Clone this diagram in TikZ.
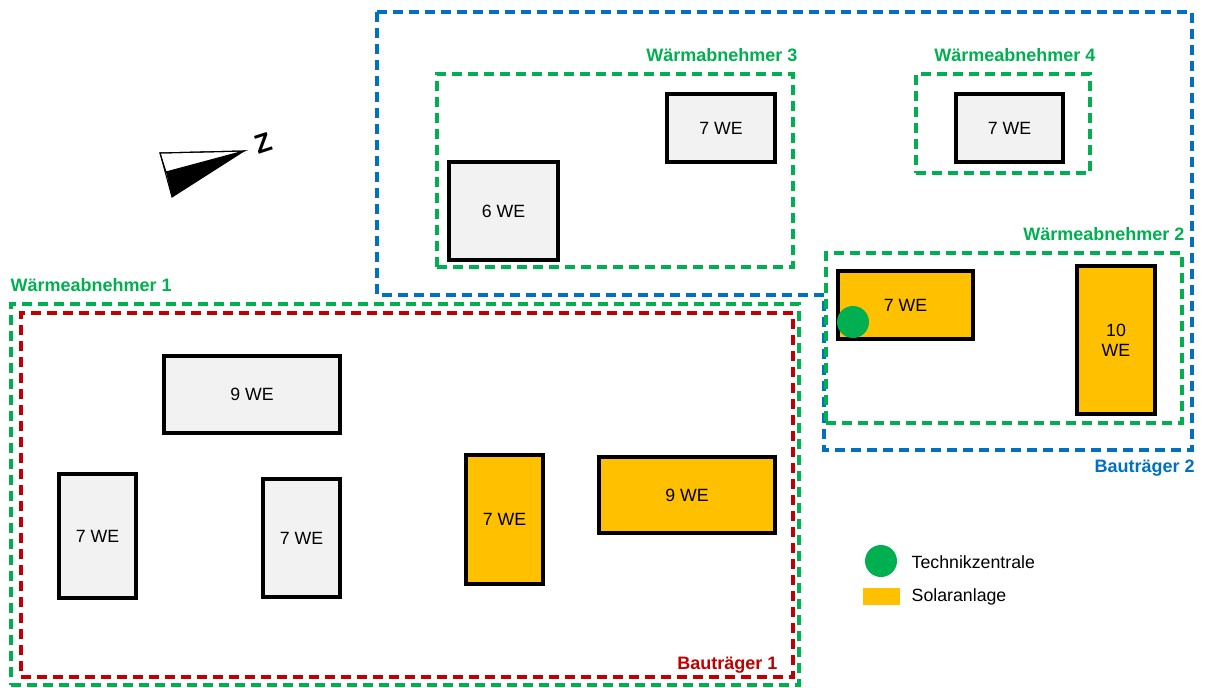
\documentclass[tikz,border=0pt]{standalone}
\usepackage{fontspec}
\setmainfont{Liberation Sans}
\usetikzlibrary{fit, calc}
\definecolor{zGreen}{HTML}{00B050}
\definecolor{zBlue}{HTML}{0070C0}
\definecolor{zRed}{HTML}{C00000}
\definecolor{solarOrange}{HTML}{FFC000}
\definecolor{houseGray}{HTML}{F2F2F2}
\tikzset{
    font=\fontsize{13.3}{15}\selectfont,
    % Colors
    houseStyle/.style={draw=black, fill=houseGray},
    solarStyle/.style={draw=black, fill=solarOrange},
    % Shapes
    house/.style={rectangle, line width=2.4pt, inner sep=0pt, align=center, houseStyle},
    size/.style 2 args={minimum width=#1*0.75pt, minimum height=#2*0.75pt},
    zone/.style={rectangle, line width=2.6pt, dash pattern=on 7.5pt off 4.5pt, inner sep=0pt},
    zoneGreen/.style={zone, draw=zGreen},
    zoneRed/.style={zone, draw=zRed},
    zoneBlue/.style={line width=2.6pt, dash pattern=on 7.5pt off 4.5pt, draw=zBlue},
    tz/.style={circle, fill=zGreen, minimum size=24pt, inner sep=0pt},
    % Labels
    lbl/.style={inner sep=0pt, font=\fontsize{13.5}{15}\selectfont\bfseries}
}

\begin{document}
\begin{tikzpicture}[x=0.75pt, y=-0.75pt]
\useasboundingbox (0,0) rectangle (1205,688);

% Bautraeger 2
\draw[zoneBlue] (377,12) -- (1192,12) -- (1192,450) -- (824,450) -- (824,295) -- (377,295) -- cycle;
\node[lbl, text=zBlue, anchor=north east] (bt2) at (1195,460) {Bauträger 2};

% Waermeabnehmer zones
\node[zoneGreen, fit={(437,74) (793,267)}] (wa3) {};
\node[zoneGreen, fit={(916,74) (1090,173)}] (wa4) {};
\node[zoneGreen, fit={(826,253) (1182,423)}] (wa2) {};
\node[zoneGreen, fit={(11,304) (799,685)}] (wa1) {};
\node[zoneRed, fit={(21,313) (793,677)}] (bt1) {};

\node[lbl, text=zGreen, anchor=south east] at ($(wa3.north east)+(3,-10)$) {Wärmabnehmer 3};
\node[lbl, text=zGreen, anchor=south east] at ($(wa4.north east)+(4,-10)$) {Wärmeabnehmer 4};
\node[lbl, text=zGreen, anchor=south east] at ($(wa2.north east)+(1,-10)$) {Wärmeabnehmer 2};
\node[lbl, text=zGreen, anchor=south west] at ($(wa1.north west)+(1,-10)$) {Wärmeabnehmer 1};
\node[lbl, text=zRed, anchor=base east] at ($(bt1.south east)+(-17,-9)$) {Bauträger 1};

% Buildings
\node[house, size={108}{68}] (h73) at (721,128) {7 WE};
\node[house, size={107}{68}] (h74) at (1009.5,128) {7 WE};
\node[house, size={109}{98}] (h6) at (503.5,211) {6 WE};
\node[house, size={176}{77}] (h9) at (252,394.5) {9 WE};
\node[house, size={77}{124}] (h7a) at (97.5,536) {7 WE};
\node[house, size={77}{118}] (h7b) at (301.5,538) {7 WE};
\node[house, solarStyle, size={77}{129}] (s7a) at (504.5,519.5) {7 WE};
\node[house, solarStyle, size={176}{76}] (s9) at (687,495) {9 WE};
\node[house, solarStyle, size={135}{68}] (s7b) at (905.5,305) {7 WE};
\node[house, solarStyle, size={78}{148}] (s10) at (1116,340) {10\\WE};
\node[tz] (tzc) at (853,322) {};

% Legend
\node[tz] (legTz) at (881,561) {};
\node[anchor=west] at (907,562) {Technikzentrale};
\node[rectangle, fill=solarOrange, inner sep=0pt, fit={(863,588) (900,605)}] (legSolar) {};
\node[anchor=west] at (907,597) {Solaranlage};

% North arrow
\fill[black] (166,172) -- (244,151) -- (172,197) -- cycle;
\draw[line width=0.8pt, fill=white] (160,153) -- (244,151) -- (166,172) -- cycle;
\draw[line width=0.8pt] (160,153) -- (244,151) -- (172,197) -- cycle;
\node[rotate=18, font=\fontsize{20}{20}\selectfont\bfseries] (north) at (263,143) {Z};

\end{tikzpicture}
\end{document}
